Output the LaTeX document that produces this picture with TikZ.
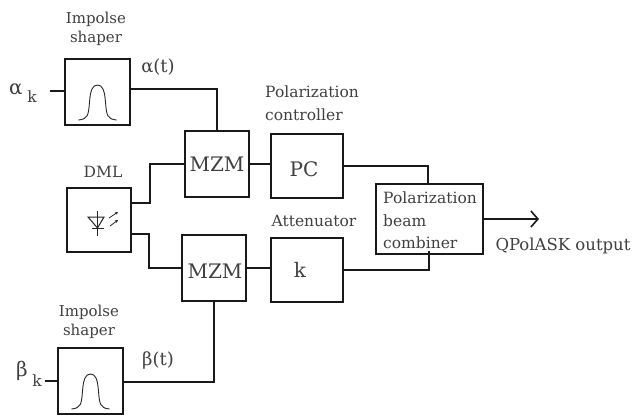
\documentclass[tikz,border=0pt]{standalone}
\usepackage{fontspec}
\setmainfont{DejaVu Serif}
\usetikzlibrary{arrows.meta}
\tikzset{
  x=1pt,y=-1pt,
  block/.style={draw=black!90,line width=2.4pt,inner sep=0pt,outer sep=0pt,anchor=north west},
  wire/.style={draw=black!90,line width=2pt,line join=miter},
  lbl/.style={inner sep=0pt,text=black!75,align=center},
  small/.style={lbl,font=\fontsize{15}{19}\selectfont},
  mid/.style={lbl,font=\fontsize{15.5}{22.5}\selectfont},
  big/.style={lbl,font=\fontsize{20}{24}\selectfont},
  pulse/.pic={\draw[line width=0.9pt,black!85] (-19,28) .. controls (-10,27) and (-9,24) .. (-8,10) .. controls (-7,-2) and (-5,-7) .. (0,-7) .. controls (5,-7) and (7,-2) .. (8,10) .. controls (9,24) and (10,27) .. (19,28);}
}
\begin{document}
\begin{tikzpicture}
\useasboundingbox (0,0) rectangle (641,416);
\fill[white] (0,0) rectangle (641,416);
% blocks
\node[block,minimum width=65pt,minimum height=66pt] (s1) at (65,59) {};
\node[block,minimum width=64pt,minimum height=66pt] (m1) at (185,131) {};
\node[block,minimum width=64pt,minimum height=64pt] (dml) at (67,188) {};
\node[block,minimum width=64pt,minimum height=66pt] (m2) at (182,235) {};
\node[block,minimum width=65pt,minimum height=66pt] (s2) at (58,348) {};
\node[block,minimum width=72pt,minimum height=64pt] (pc) at (271,134) {};
\node[block,minimum width=72pt,minimum height=64pt] (att) at (271,238) {};
\node[block,minimum width=107pt,minimum height=70pt] (pbc) at (376,184) {};
% free ends
\coordinate (ain) at (50,91);
\coordinate (bin) at (45,381);
\coordinate (out) at (539,219);
% connectors
\draw[wire] (ain) -- (s1.west |- ain);
\draw[wire] (bin) -- (s2.west |- bin);
\draw[wire] ([yshift=3pt]s1.east) -| (m1.north);
\draw[wire] ([yshift=-1pt]s2.east) -| (m2.south);
\draw[wire] ([yshift=17pt]dml.east) -- ++(19,0) |- (m1.west);
\draw[wire] ([yshift=-14pt]dml.east) -- ++(18,0) |- (m2.west);
\draw[wire] (m1.east) -- (pc.west |- m1.east);
\draw[wire] (m2.east) -- (att.west |- m2.east);
\draw[wire] (pc.east) -- ++(85,0) -- ++(0,18);
\draw[wire] (att.east) -- ++(86,0) -- ++(0,-19);
\draw[wire,-{Straight Barb[length=7pt,width=16pt,line width=1.6pt]}] (pbc.east) -- (out);
% pulses
\pic at (s1.center) {pulse};
\pic at (s2.center) {pulse};
% laser diode symbol
\draw[line width=1pt,black!85] (88,217) -- (104,217) -- (97.5,228) -- cycle;
\draw[line width=1pt,black!85] (92,228) -- (104,228);
\draw[line width=1pt,black!85] (97.5,211) -- (97.5,236);
\draw[line width=0.8pt,black!85,-{Stealth[length=3pt,width=3pt]}] (109,218) -- (118,212);
\draw[line width=0.8pt,black!85,-{Stealth[length=3pt,width=3pt]}] (110,226) -- (118,220);
% labels
\node[small] (t1) at (96,28.5) {Impolse\\shaper};
\node[small] (t2) at (89,321.5) {Impolse\\shaper};
\node[mid] (dmlt) at (103,172) {DML};
\node[big] at (16,89) {α};
\node[mid] at (32,97) {k};
\node[big] at (22,371) {β};
\node[mid] at (37,381) {k};
\node[lbl,font=\fontsize{18}{22}\selectfont] at (158,67) {α(t)};
\node[lbl,font=\fontsize{18}{22}\selectfont] at (158,360) {β(t)};
\node[big] at (m1.center) {MZM};
\node[big] at (215,271) {MZM};
\node[big] at (304,169) {PC};
\node[big] at (300,270) {k};
\node[mid,anchor=west,align=left] at (265,103) {Polarization\\controller};
\node[mid] at (314,221) {Attenuator};
\node[mid,anchor=west,align=left] at (383,220.5) {Polarization\\beam\\combiner};
\node[lbl,font=\fontsize{16.5}{20}\selectfont] at (563,246) {QPolASK output};
\end{tikzpicture}
\end{document}
